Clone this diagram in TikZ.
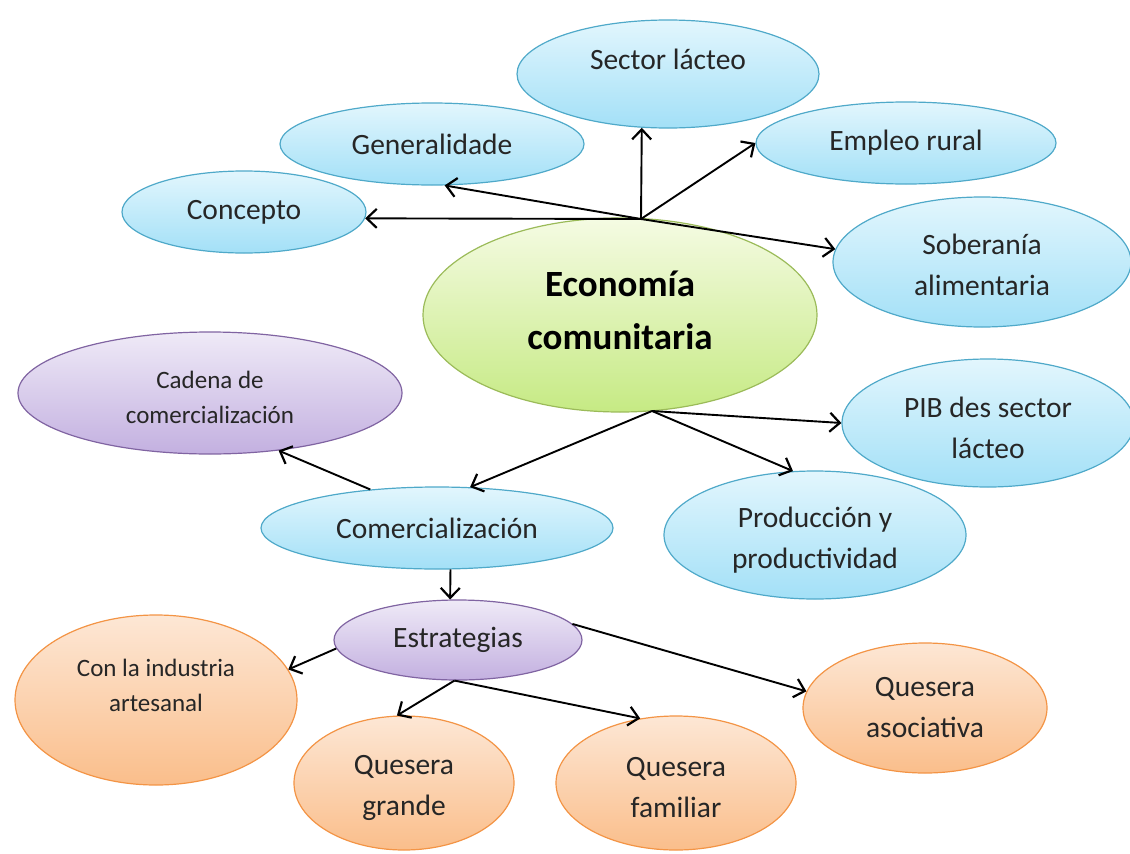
\documentclass[tikz,border=0pt]{standalone}
\usepackage{fontspec}
\setmainfont{Carlito}
\usetikzlibrary{shapes.geometric,arrows.meta}
\definecolor{bluetop}{HTML}{E2F6FD}
\definecolor{bluebot}{HTML}{A3E0F7}
\definecolor{bluebd}{HTML}{4FA9C9}
\definecolor{greentop}{HTML}{F5FBE3}
\definecolor{greenbot}{HTML}{C6EA84}
\definecolor{greenbd}{HTML}{9BBB59}
\definecolor{purptop}{HTML}{EFEAF7}
\definecolor{purpbot}{HTML}{C3B0E0}
\definecolor{purpbd}{HTML}{8064A2}
\definecolor{orantop}{HTML}{FDE7D5}
\definecolor{oranbot}{HTML}{FABE8B}
\definecolor{oranbd}{HTML}{F39445}
\definecolor{txt}{HTML}{262626}
\begin{document}
\begin{tikzpicture}[x=1pt,y=-1pt,
  ell/.style={ellipse, line width=1.2pt, inner sep=0pt},
  blueell/.style={ell, draw=bluebd, top color=bluetop, bottom color=bluebot},
  greenell/.style={ell, draw=greenbd, top color=greentop, bottom color=greenbot},
  purpell/.style={ell, draw=purpbd, top color=purptop, bottom color=purpbot},
  oranell/.style={ell, draw=oranbd, top color=orantop, bottom color=oranbot},
  lbl/.style={align=center, text=txt, inner sep=0pt, font=\fontsize{29.5}{41}\selectfont},
  slbl/.style={align=center, text=txt, inner sep=0pt, font=\fontsize{25}{35}\selectfont},
  blbl/.style={align=center, text=black, inner sep=0pt, font=\fontsize{37}{53}\selectfont\bfseries},
  arr/.style={-{Straight Barb[length=10pt,width=19pt,line width=2.2pt]}, line width=1.9pt, black}]
\useasboundingbox (0,0) rectangle (1130,854);

\node[blueell, minimum width=302pt, minimum height=108pt, label={[lbl, yshift=15pt]center:Sector lácteo}] (sector) at (668,74) {};
\node[blueell, minimum width=304pt, minimum height=82pt, label={[lbl]center:Generalidade}] (gen) at (432,144) {};
\node[blueell, minimum width=300pt, minimum height=82pt, label={[lbl]center:Empleo rural}] (emp) at (906,143) {};
\node[blueell, minimum width=244pt, minimum height=82pt, label={[lbl]center:Concepto}] (conc) at (244,212) {};
\node[blueell, minimum width=298pt, minimum height=130pt, label={[lbl, yshift=-3pt]center:Soberanía\\alimentaria}] (sob) at (982,262) {};
\node[greenell, minimum width=394pt, minimum height=194pt, label={[blbl, yshift=5pt]center:Economía\\comunitaria}] (eco) at (620,315) {};
\node[purpell, minimum width=384pt, minimum height=122pt, label={[slbl, yshift=-4pt]center:Cadena de\\comercialización}] (cad) at (210,393) {};
\node[blueell, minimum width=292pt, minimum height=128pt, label={[lbl, yshift=-5pt]center:PIB des sector\\lácteo}] (pib) at (988,423) {};
\node[blueell, minimum width=352pt, minimum height=82pt, label={[lbl]center:Comercialización}] (comer) at (437,528) {};
\node[blueell, minimum width=302pt, minimum height=128pt, label={[lbl, yshift=-5pt]center:Producción y\\productividad}] (prod) at (815,535) {};
\node[purpell, minimum width=248pt, minimum height=80pt, label={[lbl]center:Estrategias}] (estr) at (458,640) {};
\node[oranell, minimum width=282pt, minimum height=170pt, label={[slbl, yshift=15pt]center:Con la industria\\artesanal}] (ind) at (156,700) {};
\node[oranell, minimum width=244pt, minimum height=130pt, label={[lbl]center:Quesera\\asociativa}] (asoc) at (925,708) {};
\node[oranell, minimum width=220pt, minimum height=134pt, label={[lbl, yshift=-5pt]center:Quesera\\grande}] (grande) at (404,783) {};
\node[oranell, minimum width=240pt, minimum height=134pt, label={[lbl, yshift=-5pt]center:Quesera\\familiar}] (fam) at (676,783) {};

\coordinate (top) at (641,219);
\coordinate (bot) at (652,411);

\draw[arr] (top) -- (conc.-3);
\draw[arr] (top) -- (gen.-73);
\draw[arr] (top) -- (sector.-116);
\draw[arr] (top) -- (emp.west);
\draw[arr] (top) -- (sob.175);
\draw[arr] (bot) -- (pib.west);
\draw[arr] (bot) -- (prod.109);
\draw[arr] (bot) -- (comer.51);
\draw[arr] (comer.150) -- (cad.-40);
\draw[arr] (comer.-72) -- (estr.101);
\draw[arr] (estr.184) -- (ind.13);
\draw[arr] (estr.-95) -- (grande.96);
\draw[arr] (estr.-95) -- (fam.119);
\draw[arr] (estr.8) -- (asoc.172);
\end{tikzpicture}
\end{document}
